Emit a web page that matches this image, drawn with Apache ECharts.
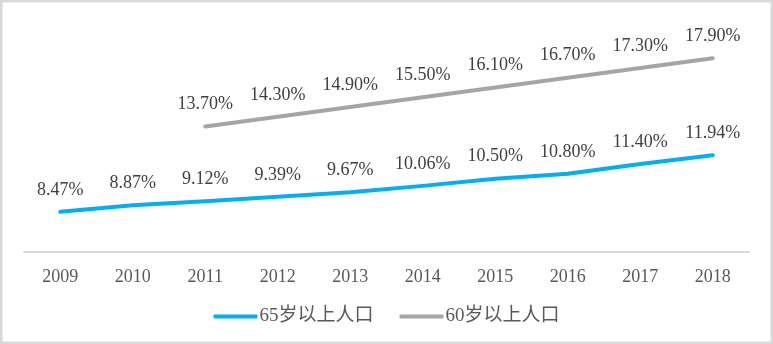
<!DOCTYPE html>
<html>
<head>
<meta charset="utf-8">
<script src="https://cdn.jsdelivr.net/npm/echarts@6/dist/echarts.min.js"></script>
<style>
  html, body { margin: 0; padding: 0; background: #fff; }
  #chart { width: 773px; height: 344px; }
</style>
</head>
<body>
<div id="chart"></div>
<script>
// Population share by age group, 2009–2018 (%)
const years = ['2009', '2010', '2011', '2012', '2013', '2014', '2015', '2016', '2017', '2018'];
const over65 = [8.47, 8.87, 9.12, 9.39, 9.67, 10.06, 10.50, 10.80, 11.40, 11.94];
const over60 = [null, null, 13.70, 14.30, 14.90, 15.50, 16.10, 16.70, 17.30, 17.90];
const seriesNames = ['65岁以上人口', '60岁以上人口'];
const seriesColors = ['#00B0F0', '#A5A5A5'];

const serif = '"Liberation Serif", "Times New Roman", "Noto Sans CJK SC", serif';

const chart = echarts.init(document.getElementById('chart'), null, { renderer: 'canvas' });

function lineSeries(name, data, color) {
  return {
    name: name,
    type: 'line',
    data: data,
    symbol: 'circle',
    symbolSize: 0,
    showSymbol: true,
    smooth: false,
    connectNulls: false,
    lineStyle: { color: color, width: 4, cap: 'round', join: 'round' },
    itemStyle: { color: color },
    label: {
      show: true,
      position: 'top',
      distance: 13,
      formatter: p => (p.value == null ? '' : Number(p.value).toFixed(2) + '%'),
      color: '#404040',
      fontFamily: serif,
      fontSize: 18
    },
    emphasis: { disabled: true },
    animation: false
  };
}

chart.setOption({
  animation: false,
  backgroundColor: '#fff',
  graphic: [{
    type: 'rect',
    shape: { x: 1.25, y: 1.25, width: 770.5, height: 341.5 },
    style: { fill: 'none', stroke: '#D9D9D9', lineWidth: 2.5 },
    silent: true
  }],
  grid: { left: 24, right: 24, top: 24, bottom: 92, containLabel: false },
  legend: {
    data: seriesNames,
    left: 'center',
    top: 302,
    itemWidth: 44,
    itemHeight: 4,
    itemGap: 26,
    icon: 'roundRect',
    textStyle: {
      color: '#595959',
      fontFamily: serif,
      fontSize: 19,
      padding: [0, 0, 0, -3]
    }
  },
  xAxis: {
    type: 'category',
    data: years,
    boundaryGap: true,
    axisLine: { show: true, lineStyle: { color: '#D9D9D9', width: 2 } },
    axisTick: { show: false },
    axisLabel: {
      color: '#595959',
      fontFamily: serif,
      fontSize: 18,
      margin: 16
    },
    splitLine: { show: false }
  },
  yAxis: {
    type: 'value',
    min: 6,
    max: 20,
    show: false,
    splitLine: { show: false }
  },
  series: [
    lineSeries(seriesNames[0], over65, seriesColors[0]),
    lineSeries(seriesNames[1], over60, seriesColors[1])
  ]
});
</script>
</body>
</html>
